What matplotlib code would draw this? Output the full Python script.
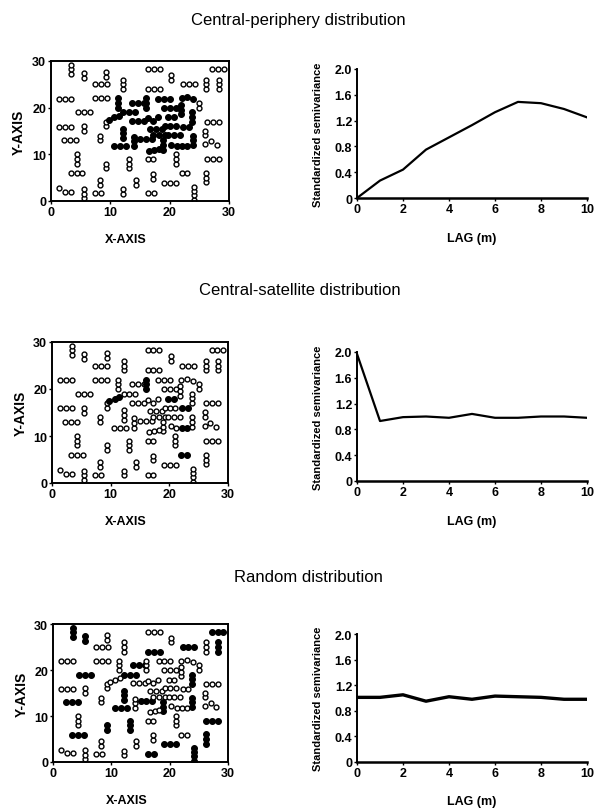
import matplotlib
matplotlib.use("Agg")
import matplotlib.pyplot as plt

plt.rcParams['font.family'] = ['Liberation Sans', 'DejaVu Sans']

W, H = 597, 812

titles = ["Central-periphery distribution", "Central-satellite distribution", "Random distribution"]

# point groups of the sampling layout (x, y in m)
groups = [
    [(3.4, 27.2), (3.4, 28.2), (3.4, 29.2)],
    [(5.5, 26.4), (5.5, 27.4)],
    [(9.3, 26.6), (9.3, 27.6)],
    [(7.4, 25), (8.4, 25), (9.4, 25)],
    [(12.2, 24), (12.2, 25), (12.2, 26)],
    [(16.3, 28.2), (17.3, 28.2), (18.3, 28.2)],
    [(20.3, 26), (20.3, 27)],
    [(22.2, 25), (23.2, 25), (24.2, 25)],
    [(26.2, 24), (26.2, 25), (26.2, 26)],
    [(27.2, 28.2), (28.2, 28.2), (29.2, 28.2)],
    [(28.3, 24), (28.3, 25), (28.3, 26)],
    [(16.3, 24), (17.3, 24), (18.3, 24)],
    [(1.4, 21.9), (2.4, 21.9), (3.4, 21.9)],
    [(7.4, 22), (8.4, 22), (9.4, 22)],
    [(4.5, 19), (5.5, 19), (6.5, 19)],
    [(1.4, 15.9), (2.4, 15.9), (3.4, 15.9)],
    [(5.5, 15), (5.5, 16)],
    [(2.2, 13), (3.2, 13), (4.2, 13)],
    [(4.3, 8), (4.3, 9), (4.3, 10)],
    [(3.3, 5.9), (4.3, 5.9), (5.3, 5.9)],
    [(1.4, 2.7), (2.4, 1.9), (3.4, 1.9)],
    [(5.5, 0.6), (5.5, 1.6), (5.5, 2.6)],
    [(7.4, 1.8), (8.4, 1.8)],
    [(8.2, 3.5), (8.2, 4.5)],
    [(9.3, 7), (9.3, 8)],
    [(8.2, 13), (8.2, 14)],
    [(9.3, 16), (9.3, 17)],
    [(12.2, 1.6), (12.2, 2.5)],
    [(13.2, 7), (13.2, 8), (13.2, 9)],
    [(14.3, 3.5), (14.3, 4.5)],
    [(16.3, 1.8), (17.3, 1.8)],
    [(17.2, 4.8), (17.2, 5.8)],
    [(16.3, 9), (17.2, 9)],
    [(19.1, 3.9), (20.1, 3.9), (21.1, 3.9)],
    [(22, 5.9), (23, 5.9)],
    [(21, 8), (21, 9), (21, 10)],
    [(24.1, 0.3), (24.1, 1.2), (24.1, 2.1), (24.1, 3.0)],
    [(26.2, 4), (26.2, 5), (26.2, 6)],
    [(26.3, 9), (27.3, 9), (28.3, 9)],
    [(26, 14.1), (26, 15.1)],
    [(27, 12.8), (28, 12), (26, 12.2)],
    [(26.3, 17), (27.3, 17), (28.3, 17)],
    [(25, 20), (25, 21)],
    # central groups
    [(11.3, 20), (11.3, 21), (11.3, 22)],
    [(13.7, 21), (14.7, 21), (15.7, 21)],
    [(16, 20), (16, 21), (16, 22)],
    [(18.1, 21.9), (19.1, 21.9), (20.1, 21.9)],
    [(19.1, 20), (20.1, 20), (21.1, 20)],
    [(22, 22), (23, 22.2), (24, 21.8)],
    [(21.9, 18.6), (21.9, 19.6), (21.9, 20.6)],
    [(12.2, 19), (13.2, 19), (14.2, 19)],
    [(9.8, 17.4), (10.7, 17.9), (11.5, 18.2)],
    [(13.7, 17.1), (14.7, 17.1), (15.7, 17.1)],
    [(16.3, 17.7), (17.2, 17.1), (18, 17.9)],
    [(19.8, 17.9), (20.8, 17.9)],
    [(23.8, 17), (23.8, 18), (23.8, 19)],
    [(12.2, 13.5), (12.2, 14.5), (12.2, 15.5)],
    [(16.7, 15.4), (17.7, 15.4), (18.7, 15.4)],
    [(19.2, 16), (20.1, 16), (21.0, 16)],
    [(22.2, 15.9), (23.2, 15.9)],
    [(15, 13.2), (16, 13.2), (17, 13.2)],
    [(14, 11.8), (14, 12.8), (14, 13.8)],
    [(10.6, 11.8), (11.6, 11.8), (12.6, 11.8)],
    [(17.2, 14.1), (18.2, 14.1), (19.2, 14.1)],
    [(19.8, 14.1), (20.8, 14.1), (21.8, 14.1)],
    [(18.9, 11), (18.9, 12), (18.9, 13)],
    [(16.6, 10.8), (17.4, 11), (18.2, 11.2)],
    [(20.2, 12.1), (21.2, 11.8)],
    [(22.1, 11.8), (23, 11.8)],
    [(23.9, 12), (23.9, 13), (23.9, 14)],
]

# which groups are drawn filled in each panel
filled_cp = list(range(43, 70))
filled_cs = [34, 45, 51, 54, 59, 68]
filled_rd = [0, 1, 7, 9, 10, 11, 14, 17, 19, 24, 28, 30, 33, 36, 37, 38,
             44, 50, 55, 56, 60, 62, 65, 69]
filled = [filled_cp, filled_cs, filled_rd]

lag = [0, 1, 2, 3, 4, 5, 6, 7, 8, 9, 10]
semivar_cp = [0, 0.27, 0.44, 0.75, 0.94, 1.13, 1.33, 1.49, 1.47, 1.38, 1.25]
semivar_cs = [1.97, 0.93, 0.99, 1.0, 0.98, 1.04, 0.98, 0.98, 1.0, 1.0, 0.98]
semivar_rd = [1.01, 1.01, 1.05, 0.95, 1.02, 0.98, 1.03, 1.02, 1.01, 0.98, 0.98]
semivar = [semivar_cp, semivar_cs, semivar_rd]
line_w = [1.6, 1.6, 2.4]

# pixel boxes (left, top, right, bottom)
scatter_box = [(51, 62, 229, 202), (52, 343, 228, 484), (53, 625, 228, 763)]
line_box = [(357, 70, 587, 199), (357, 353, 587, 482), (357, 635, 587, 763)]
title_pos = [(298, 20), (300, 291), (308, 577)]


def rect(b):
    l, t, r, bt = b
    return [l / W, 1 - bt / H, (r - l) / W, (bt - t) / H]


fig = plt.figure(figsize=(W / 100, H / 100), dpi=100)
tick_font = dict(fontsize=9, fontweight='bold')

for k in range(3):
    fig.text(title_pos[k][0] / W, 1 - title_pos[k][1] / H, titles[k],
             ha='center', va='center', fontsize=12)

    ax = fig.add_axes(rect(scatter_box[k]))
    for i, g in enumerate(groups):
        xs = [p[0] for p in g]
        ys = [p[1] for p in g]
        if i in filled[k]:
            ax.plot(xs, ys, 'o', ms=4.2, mfc='black', mec='black', mew=0.8)
        else:
            ax.plot(xs, ys, 'o', ms=3.5, mfc='white', mec='black', mew=1.0)
    ax.set_xlim(0, 30)
    ax.set_ylim(0, 30)
    ax.set_xticks([0, 10, 20, 30])
    ax.set_yticks([0, 10, 20, 30])
    ax.set_xticklabels(['0', '10', '20', '30'], **tick_font)
    ax.set_yticklabels(['0', '10', '20', '30'], **tick_font)
    ax.tick_params(length=2, width=1, pad=1.5)
    for s in ax.spines.values():
        s.set_linewidth(1.4)
    ax.set_xlabel('X-AXIS', fontsize=9, fontweight='bold')
    ax.xaxis.set_label_coords(0.42, -0.23)
    ax.set_ylabel('Y-AXIS', fontsize=10, fontweight='bold')
    ax.yaxis.set_label_coords(-0.14, 0.5)

    ax2 = fig.add_axes(rect(line_box[k]))
    ax2.plot(lag, semivar[k], color='black', lw=line_w[k])
    ax2.set_xlim(0, 10)
    ax2.set_ylim(0, 2.0)
    ax2.set_xticks([0, 2, 4, 6, 8, 10])
    ax2.set_yticks([0, 0.4, 0.8, 1.2, 1.6, 2.0])
    ax2.set_xticklabels(['0', '2', '4', '6', '8', '10'], **tick_font)
    ax2.set_yticklabels(['0', '0.4', '0.8', '1.2', '1.6', '2.0'], **tick_font)
    ax2.tick_params(length=2, width=1, pad=1.5)
    ax2.spines['top'].set_visible(False)
    ax2.spines['right'].set_visible(False)
    ax2.spines['left'].set_linewidth(1.4)
    ax2.spines['bottom'].set_linewidth(1.8)
    ax2.set_xlabel('LAG (m)', fontsize=9, fontweight='bold')
    ax2.xaxis.set_label_coords(0.5, -0.26)
    ax2.set_ylabel('Standardized semivariance', fontsize=8, fontweight='bold')
    ax2.yaxis.set_label_coords(-0.148, 0.5)

fig.savefig('out.png', dpi=100)
